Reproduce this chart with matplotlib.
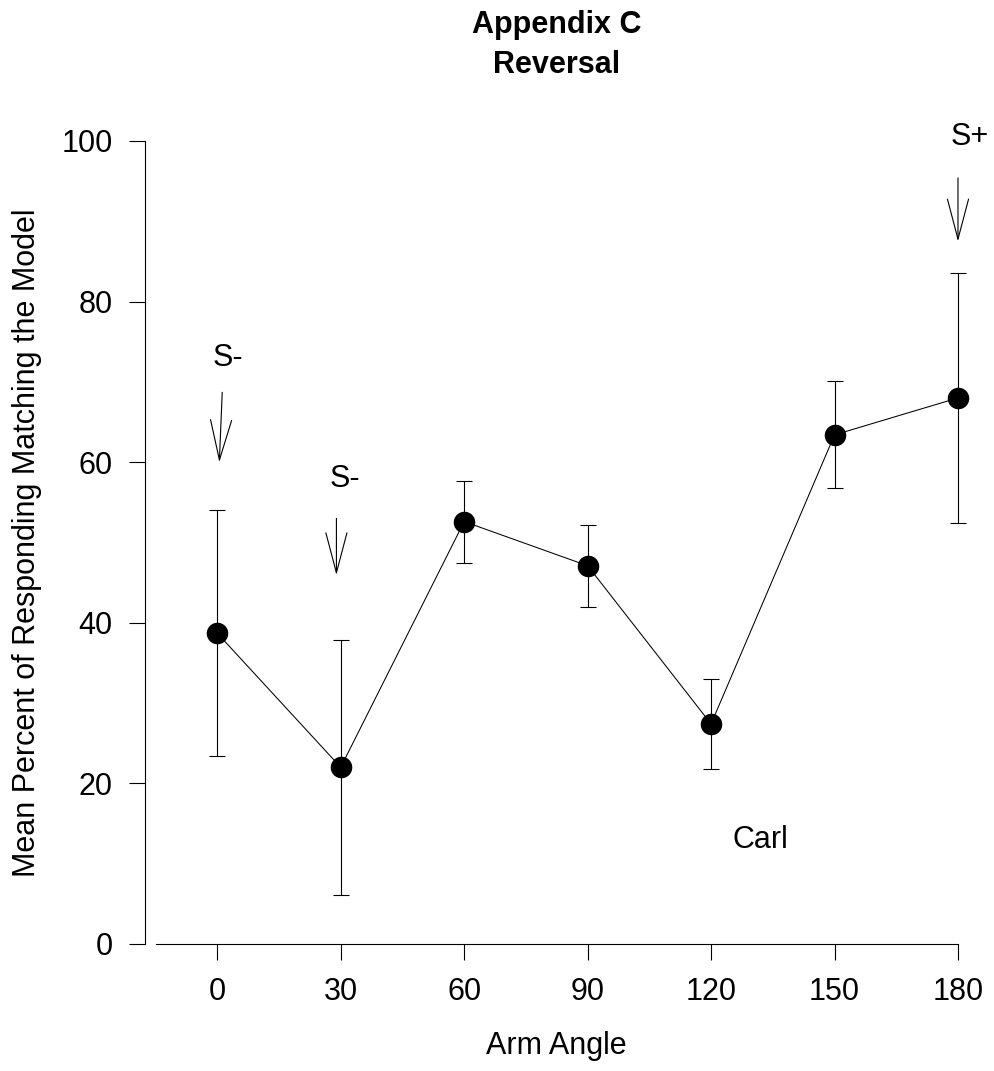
import matplotlib
matplotlib.use("Agg")
import matplotlib.pyplot as plt

plt.rcParams['font.family'] = ['Liberation Sans', 'DejaVu Sans']

# data
angles = [0, 30, 60, 90, 120, 150, 180]
mean_pct = [38.7, 22.0, 52.6, 47.1, 27.4, 63.4, 68.0]
err_pct = [15.3, 15.9, 5.1, 5.1, 5.65, 6.65, 15.55]
tick_angles = [0, 30, 60, 90, 120, 150, 180]
tick_pct = [0, 20, 40, 60, 80, 100]

# stimulus markers: (label, text x, text y, arrow tail, arrow head)
stim_labels = ['S-', 'S-', 'S+']
stim_text = [(2.5, 73.0), (31.0, 57.9), (182.8, 100.5)]
stim_tail = [(1.2, 68.7), (28.95, 53.0), (180.0, 95.4)]
stim_head = [(0.5, 60.0), (28.95, 45.95), (180.0, 87.5)]

FS = 22

fig = plt.figure(figsize=(9.95, 10.71), dpi=100)
ax = fig.add_axes([0.146, 0.1186, 0.8168, 0.7498])

ax.errorbar(angles, mean_pct, yerr=err_pct, color='black', lw=0.75,
            marker='o', ms=14.5, mfc='black', mec='black',
            ecolor='black', elinewidth=0.8, capsize=5.8, capthick=0.8,
            clip_on=False, zorder=3)

for lab, (tx, ty), tail, head in zip(stim_labels, stim_text, stim_tail, stim_head):
    ax.text(tx, ty, lab, fontsize=FS, ha='center', va='center')
    ax.annotate('', xy=head, xytext=tail, annotation_clip=False,
                arrowprops=dict(arrowstyle='->, head_length=28.8, head_width=7.6',
                                mutation_scale=1, lw=0.8, color='black',
                                shrinkA=0, shrinkB=0))

ax.text(132, 13.0, 'Carl', fontsize=FS, ha='center', va='center')

ax.set_xlim(-17.5, 180)
ax.set_ylim(0, 100)
ax.set_xticks(tick_angles)
ax.set_yticks(tick_pct)
ax.tick_params(length=11.5, width=0.8, labelsize=FS, pad=12)

for side in ['top', 'right']:
    ax.spines[side].set_visible(False)
ax.spines['left'].set_bounds(0, 100)
ax.spines['bottom'].set_bounds(-15, 180)
ax.spines['left'].set_linewidth(0.8)
ax.spines['bottom'].set_linewidth(0.8)

ax.set_xlabel('Arm Angle', fontsize=FS)
ax.xaxis.set_label_coords(0.506, -0.108)
ax.set_ylabel('Mean Percent of Responding Matching the Model', fontsize=FS)
ax.yaxis.set_label_coords(-0.127, 0.5)

fig.text(557 / 995, 1 - 33 / 1071, 'Appendix C', fontsize=FS, fontweight='bold',
         ha='center', va='baseline')
fig.text(557 / 995, 1 - 73 / 1071, 'Reversal', fontsize=FS, fontweight='bold',
         ha='center', va='baseline')

fig.savefig('out.png', dpi=100)
